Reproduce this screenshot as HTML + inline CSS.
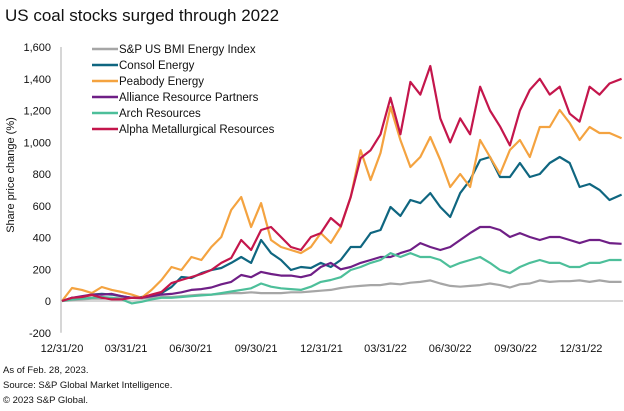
<!DOCTYPE html>
<html><head><meta charset="utf-8"><style>
body{margin:0;background:#fff;width:624px;height:411px;overflow:hidden;font-family:"Liberation Sans",sans-serif;}
#title{position:absolute;left:5px;top:6px;font-size:17px;color:#111;}
.foot{position:absolute;left:3px;font-size:9.5px;color:#111;}
</style></head><body>
<div id="title">US coal stocks surged through 2022</div>
<svg id="chart" width="624" height="411" style="position:absolute;left:0;top:0"></svg>
<div class="foot" style="top:365px">As of Feb. 28, 2023.</div>
<div class="foot" style="top:380px">Source: S&amp;P Global Market Intelligence.</div>
<div class="foot" style="top:395px">© 2023 S&amp;P Global.</div>
<script>
const dates=[0,14,28,42,56,70,84,98,112,126,140,154,168,182,196,210,224,238,252,266,280,294,308,322,336,350,364,378,392,406,420,434,448,462,476,490,504,518,532,546,560,574,588,602,616,630,644,658,672,686,700,714,728,742,756,770,787];
const xTickDays=[0,90,181,273,365,455,546,638,730];
const xTickLabels=["12/31/20","03/31/21","06/30/21","09/30/21","12/31/21","03/31/22","06/30/22","09/30/22","12/31/22"];
const yTicks=[-200,0,200,400,600,800,1000,1200,1400,1600];
const seriesNames=["S&P US BMI Energy Index","Consol Energy","Peabody Energy","Alliance Resource Partners","Arch Resources","Alpha Metallurgical Resources"];
const seriesColors=["#a6a6a6","#0f6680","#f4a340","#6f1f86","#4dbf9a","#c4164c"];
const sp=[0,5,10,15,15,20,20,20,15,20,25,25,30,35,40,40,45,50,50,55,50,50,50,55,55,60,65,70,82,90,95,100,100,110,105,115,120,130,110,95,90,95,100,110,100,85,105,110,130,120,125,125,130,120,130,120,120];
const consol=[0,20,25,40,45,40,30,20,25,35,50,88,151,145,176,195,208,240,277,240,384,302,258,195,214,208,240,214,258,340,340,428,447,592,536,636,617,680,592,529,680,762,888,907,781,781,869,781,800,869,907,869,718,737,700,636,670];
const peabody=[0,82,70,50,88,70,57,40,20,70,132,214,195,277,258,340,403,573,655,466,617,384,340,321,302,340,428,366,466,655,950,762,932,1222,1014,844,907,1033,888,718,800,718,1014,907,800,951,1014,907,1096,1096,1203,1121,1014,1096,1058,1058,1025];
const alliance=[0,20,30,40,40,45,30,20,20,30,40,45,55,70,75,85,105,120,164,150,183,170,160,160,150,165,214,240,200,214,240,258,277,277,302,321,365,340,321,340,384,428,466,466,447,403,428,403,384,403,403,384,365,384,384,365,360];
const arch=[0,10,15,20,25,20,10,-15,-5,10,20,20,25,30,35,40,50,60,70,80,110,90,80,75,70,90,120,132,150,195,214,240,258,302,277,302,277,277,258,214,240,258,277,240,195,176,214,240,258,240,240,214,214,240,240,258,258];
const alpha=[0,20,25,38,20,10,10,20,20,40,57,113,132,151,170,195,240,271,384,321,447,466,403,340,321,403,428,523,470,655,900,950,1050,1280,1050,1380,1300,1480,1150,1000,1150,1050,1350,1200,1100,980,1200,1330,1400,1300,1350,1180,1130,1350,1300,1370,1400];
const allSeries=[sp,consol,peabody,alliance,arch,alpha];
const NS="http://www.w3.org/2000/svg";
const svg=document.getElementById('chart');
const X0=62,PXD=0.711,Y0=301,PXV=254/1600;
function xs(d){return X0+d*PXD;}
function ys(v){return Y0-v*PXV;}
function mk(t,a){const e=document.createElementNS(NS,t);for(const k in a)e.setAttribute(k,a[k]);svg.appendChild(e);return e;}
let ax=mk('line',{x1:61,y1:ys(1600),x2:61,y2:ys(-200),stroke:'#c8c8c8','stroke-width':1.5});


let zl=mk('line',{x1:61,y1:ys(0),x2:623,y2:ys(0),stroke:'#c8c8c8','stroke-width':1.5});


yTicks.forEach(v=>{
 const t=mk('text',{x:51,y:ys(v)+4,'text-anchor':'end','font-size':'11','font-family':'Liberation Sans, sans-serif',fill:'#111'});
 t.textContent=v.toLocaleString('en-US');
 
 
});
xTickDays.forEach((d,i)=>{
 const t=mk('text',{x:xs(d),y:352,'text-anchor':'middle','font-size':'11','font-family':'Liberation Sans, sans-serif',fill:'#111'});
 t.textContent=xTickLabels[i];
 
 
});
const yt=mk('text',{x:0,y:0,transform:'translate(14,175) rotate(-90)','text-anchor':'middle','font-size':'11','font-family':'Liberation Sans, sans-serif',fill:'#111'});
yt.textContent='Share price change (%)';


allSeries.forEach((s,i)=>{
 const d=s.map((v,j)=>(j?'L':'M')+xs(dates[j]).toFixed(1)+','+ys(v).toFixed(1)).join('');
 const p=mk('path',{d:d,fill:'none',stroke:seriesColors[i],'stroke-width':2.2,'stroke-linejoin':'round'});
 
 
});
seriesNames.forEach((n,i)=>{
 const y=49+i*16;
 const l=mk('line',{x1:92,y1:y,x2:118,y2:y,stroke:seriesColors[i],'stroke-width':2.5});
 
 
 const t=mk('text',{x:119,y:y+4,'font-size':'11.5','font-family':'Liberation Sans, sans-serif',fill:'#111'});
 t.textContent=n;
 
 
});
</script>
</body></html>
